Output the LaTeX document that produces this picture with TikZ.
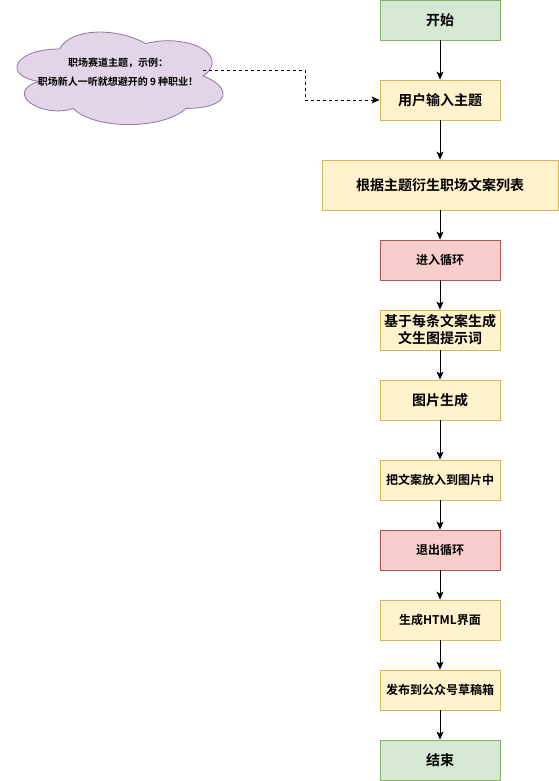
\documentclass[tikz,border=0pt]{standalone}
\usepackage{fontspec}
\setmainfont{Noto Sans CJK SC}[BoldFont={* Bold}]
\usetikzlibrary{arrows.meta,positioning}
\definecolor{gfill}{HTML}{D5E8D4}\definecolor{gline}{HTML}{82B366}
\definecolor{yfill}{HTML}{FFF2CC}\definecolor{yline}{HTML}{D6B656}
\definecolor{rfill}{HTML}{F8CECC}\definecolor{rline}{HTML}{B85450}
\definecolor{cfill}{HTML}{E1D5E7}\definecolor{cline}{HTML}{9673A6}
\begin{document}
\begin{tikzpicture}[x=1pt,y=-1pt,
  box/.style={draw,line width=0.8pt,minimum width=120pt,minimum height=40pt,inner sep=0pt,align=center,font=\bfseries\fontsize{14}{17}\selectfont},
  small/.style={font=\bfseries\fontsize{12}{15}\selectfont},
  gbox/.style={box,fill=gfill,draw=gline},
  ybox/.style={box,fill=yfill,draw=yline},
  rbox/.style={box,fill=rfill,draw=rline},
  arr/.style={-{Stealth[length=8pt,width=7pt,inset=2pt]},line width=0.8pt,black}]
\useasboundingbox (0,0) rectangle (559,781);
% cloud
\def\cx{2}\def\cy{22}\def\cw{230}\def\ch{108}
\filldraw[fill=cfill,draw=cline,line width=0.8pt]
 ({\cx+0.25*\cw},{\cy+0.25*\ch})
 .. controls ({\cx+0.05*\cw},{\cy+0.25*\ch}) and ({\cx},{\cy+0.5*\ch}) .. ({\cx+0.16*\cw},{\cy+0.55*\ch})
 .. controls ({\cx},{\cy+0.66*\ch}) and ({\cx+0.18*\cw},{\cy+0.9*\ch}) .. ({\cx+0.31*\cw},{\cy+0.8*\ch})
 .. controls ({\cx+0.4*\cw},{\cy+\ch}) and ({\cx+0.7*\cw},{\cy+\ch}) .. ({\cx+0.8*\cw},{\cy+0.8*\ch})
 .. controls ({\cx+\cw},{\cy+0.8*\ch}) and ({\cx+\cw},{\cy+0.6*\ch}) .. ({\cx+0.875*\cw},{\cy+0.5*\ch})
 .. controls ({\cx+\cw},{\cy+0.3*\ch}) and ({\cx+0.8*\cw},{\cy+0.1*\ch}) .. ({\cx+0.625*\cw},{\cy+0.2*\ch})
 .. controls ({\cx+0.5*\cw},{\cy+0.05*\ch}) and ({\cx+0.3*\cw},{\cy+0.05*\ch}) .. cycle;
\node[align=center,font=\bfseries\fontsize{10}{19}\selectfont] (cloud) at (118,72) {职场赛道主题，示例：\\职场新人一听就想避开的 9 种职业！};
\coordinate (cloudr) at (203,70);
% boxes
\node[gbox] (start) at (440,20) {开始};
\node[ybox] (input) at (440,100) {用户输入主题};
\node[ybox,minimum width=236pt,minimum height=50pt] (list) at (440,185) {根据主题衍生职场文案列表};
\node[rbox,small] (loop) at (440,260) {进入循环};
\node[ybox] (prompt) at (440,330) {基于每条文案生成\\文生图提示词};
\node[ybox] (img) at (440,400) {图片生成};
\node[ybox,small] (put) at (440,480) {把文案放入到图片中};
\node[rbox,small] (exit) at (440,550) {退出循环};
\node[ybox,small] (html) at (440,620) {生成HTML界面};
\node[ybox,small] (pub) at (440,690) {发布到公众号草稿箱};
\node[gbox] (end) at (440,760) {结束};
% edges
\draw[arr] (start) -- (input);
\draw[arr] (input) -- (list);
\draw[arr] (list) -- (loop);
\draw[arr] (loop) -- (prompt);
\draw[arr] (prompt) -- (img);
\draw[arr] (img) -- (put);
\draw[arr] (put) -- (exit);
\draw[arr] (exit) -- (html);
\draw[arr] (html) -- (pub);
\draw[arr] (pub) -- (end);
\draw[arr,dashed,dash pattern=on 3pt off 3pt] (cloudr) -- (305,70) |- (input.west);
\end{tikzpicture}
\end{document}
